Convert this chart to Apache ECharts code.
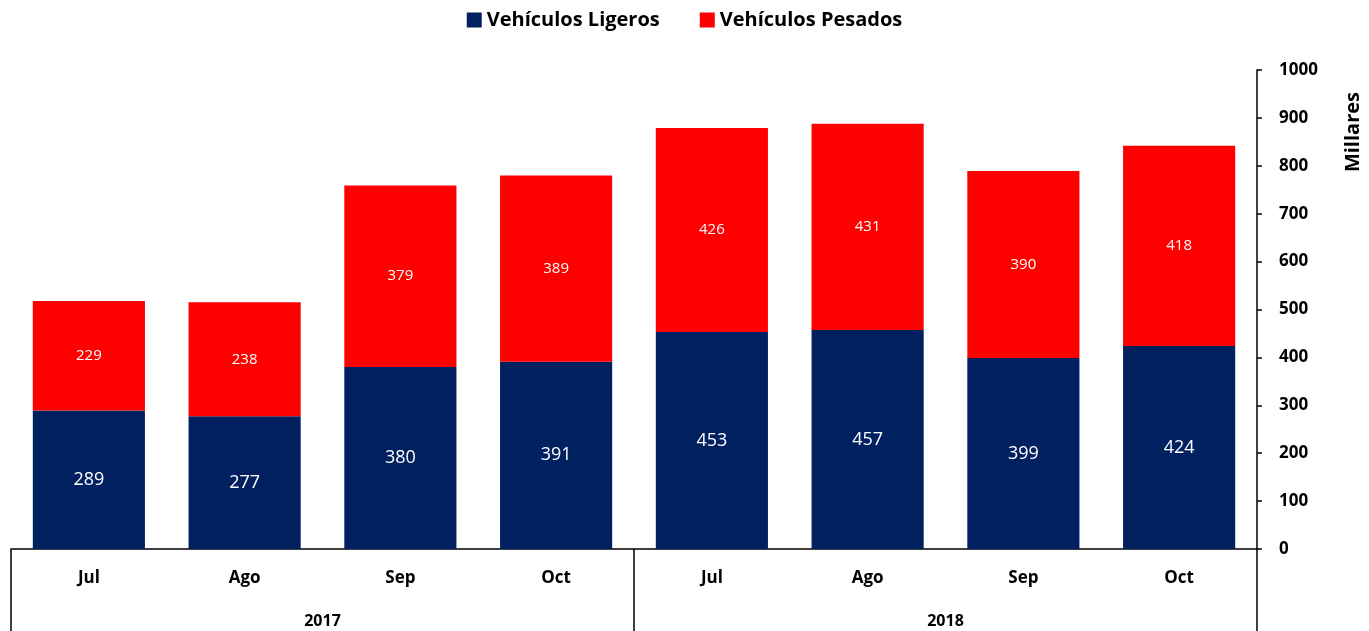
<!DOCTYPE html>
<html>
<head>
<meta charset="utf-8">
<script src="https://cdn.jsdelivr.net/npm/echarts@6/dist/echarts.min.js"></script>
<style>
html,body{margin:0;padding:0;background:#fff;}
#chart{width:1369px;height:631px;}
</style>
</head>
<body>
<div id="chart"></div>
<script>
const months = ['Jul', 'Ago', 'Sep', 'Oct', 'Jul', 'Ago', 'Sep', 'Oct'];
const years = ['2017', '2018'];
const ligeros = [289, 277, 380, 391, 453, 457, 399, 424];
const pesados = [229, 238, 379, 389, 426, 431, 390, 418];
const seriesNames = ['Vehículos Ligeros', 'Vehículos Pesados'];
const FONT = 'Open Sans';

const chart = echarts.init(document.getElementById('chart'));
chart.setOption({
  animation: false,
  textStyle: { fontFamily: FONT },
  legend: {
    top: 5,
    left: 'center',
    itemWidth: 15,
    itemHeight: 15,
    itemGap: 40,
    icon: 'rect',
    textStyle: { fontFamily: FONT, fontSize: 20, fontWeight: 'bold', color: '#000' },
    data: seriesNames
  },
  grid: { left: 11, right: 112, top: 70, bottom: 82, containLabel: false },
  xAxis: [
    {
      type: 'category',
      data: months,
      position: 'bottom',
      axisLine: { show: true, lineStyle: { color: '#000', width: 1.5 } },
      axisTick: { show: false },
      axisLabel: { margin: 21, color: '#000', fontWeight: 'bold', fontSize: 17, fontFamily: FONT }
    },
    {
      type: 'category',
      data: years,
      position: 'bottom',
      offset: 0,
      axisLine: { show: false },
      axisTick: { show: true, length: 82, interval: 0, lineStyle: { color: '#000', width: 1.5 } },
      axisLabel: { margin: 64, color: '#000', fontWeight: 'bold', fontSize: 16, fontFamily: FONT }
    }
  ],
  yAxis: {
    type: 'value',
    position: 'right',
    min: 0,
    max: 1000,
    interval: 100,
    axisLine: { show: true, lineStyle: { color: '#000', width: 1.5 } },
    axisTick: { show: true, inside: false, length: 5, lineStyle: { color: '#000', width: 1.5 } },
    splitLine: { show: false },
    axisLabel: {
      margin: 22, color: '#000', fontWeight: 'bold', fontSize: 17, fontFamily: FONT,
      formatter: function (v) { return String(v); }
    }
  },
  graphic: [{
    type: 'text',
    left: 1343,
    top: 92,
    rotation: Math.PI / 2,
    style: { text: 'Millares', font: 'bold 20px "Open Sans"', fill: '#000' }
  }],
  series: [
    {
      name: seriesNames[0],
      type: 'bar',
      stack: 'total',
      data: ligeros,
      barWidth: '72%',
      itemStyle: { color: '#002060' },
      label: { show: true, position: 'inside', color: '#fff', fontSize: 18, fontFamily: FONT }
    },
    {
      name: seriesNames[1],
      type: 'bar',
      stack: 'total',
      data: pesados,
      barWidth: '72%',
      itemStyle: { color: '#FF0000' },
      label: { show: true, position: 'inside', color: '#fff', fontSize: 15, fontFamily: FONT }
    }
  ]
});
</script>
</body>
</html>
